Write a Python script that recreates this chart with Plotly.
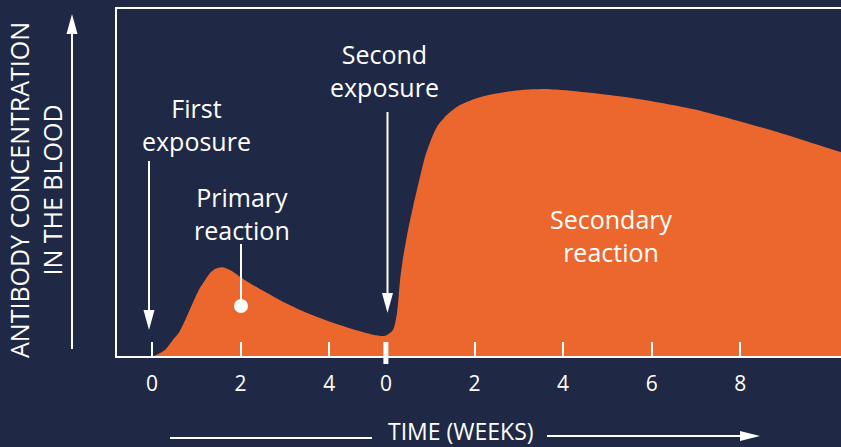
import plotly.graph_objects as go

# ---- data -------------------------------------------------------------
# time in weeks counted from the first exposure
second_exposure_week = 5.28
weeks = [0.05, 0.29, 0.47, 0.63, 0.79, 0.97, 1.08, 1.20, 1.31, 1.42, 1.58, 1.76,
         1.99, 2.21, 2.89, 3.50, 4.24, 4.99, 5.26, 5.44, 5.53, 5.60, 5.67, 5.78,
         5.89, 6.05, 6.16, 6.28, 6.43, 6.66, 6.95, 7.40, 8.15, 8.98, 10.72, 12.21,
         13.72, 14.63, 15.55, 15.8]
concentration = [0.0, 1.7, 4.6, 7.2, 11.5, 16.7, 19.6, 21.9, 23.9, 25.1, 25.6, 24.8,
                 22.8, 21.0, 16.1, 12.4, 8.9, 6.1, 5.8, 7.5, 12.4, 21.9, 28.5, 36.3,
                 42.9, 51.6, 57.3, 61.7, 66.0, 69.5, 72.3, 74.6, 76.4, 76.9, 74.6, 71.2,
                 66.0, 62.5, 58.8, 58.0]
tick_weeks = [0, 2, 4,
              second_exposure_week, second_exposure_week + 2, second_exposure_week + 4,
              second_exposure_week + 6, second_exposure_week + 8]
tick_labels = ["0", "2", "4", "0", "2", "4", "6", "8"]

BG = "#1f2945"
ORANGE = "#ec672d"
WHITE = "#ffffff"
FONT = "Open Sans"

W, H = 841, 447
L, R, T, B = 117, 841, 9, 356  # plot area in pixels


def px(x):
    return (x - L) / (R - L)


def py(y):
    return (B - y) / (B - T)


fig = go.Figure()
fig.add_trace(go.Scatter(
    x=weeks, y=concentration, mode="lines", fill="tozeroy",
    fillcolor=ORANGE, line=dict(width=0, color=ORANGE, shape="spline", smoothing=0.7),
    hoverinfo="skip", showlegend=False))

shapes = []


def vline(x, y0, y1, w=2):
    shapes.append(dict(type="line", xref="paper", yref="paper",
                       x0=px(x), x1=px(x), y0=py(y0), y1=py(y1),
                       line=dict(color=WHITE, width=w)))


def hline(x0, x1, y, w=2):
    shapes.append(dict(type="line", xref="paper", yref="paper",
                       x0=px(x0), x1=px(x1), y0=py(y), y1=py(y),
                       line=dict(color=WHITE, width=w)))


def tri(points):
    path = "M " + " L ".join(f"{px(a)},{py(b)}" for a, b in points) + " Z"
    shapes.append(dict(type="path", xref="paper", yref="paper", path=path,
                       fillcolor=WHITE, line=dict(color=WHITE, width=0)))


# first exposure arrow
vline(149, 161, 312)
tri([(143.5, 310), (154.5, 310), (149, 330)])
# second exposure arrow
vline(387.5, 112, 295)
tri([(382, 293), (393, 293), (387.5, 313)])
# primary reaction pointer + dot
vline(241, 244, 306)
shapes.append(dict(type="circle", xref="paper", yref="paper",
                   x0=px(234), x1=px(248), y0=py(313), y1=py(299),
                   fillcolor=WHITE, line=dict(color=WHITE, width=0)))
# y-axis arrow (outside plot)
vline(72, 349, 32)
tri([(66.5, 34), (77.5, 34), (72, 14)])
# time arrow
hline(170, 372, 438)
hline(547, 742, 436)
tri([(740, 431), (740, 441), (760, 436)])
# thick tick at second exposure
shapes.append(dict(type="line", xref="x", yref="paper",
                   x0=second_exposure_week, x1=second_exposure_week,
                   y0=py(342), y1=py(364), line=dict(color=WHITE, width=5)))

annotations = []


def text(s, x, y, size=25, angle=0):
    annotations.append(dict(text=s, xref="paper", yref="paper", x=px(x), y=py(y),
                            xanchor="center", yanchor="middle", showarrow=False,
                            textangle=angle, borderpad=0,
                            font=dict(family=FONT, size=size, color=WHITE)))


text("First<br>exposure", 196, 124)
text("Primary<br>reaction", 242, 213)
text("Second<br>exposure", 384, 70)
text("Secondary<br>reaction", 611, 236)
text("ANTIBODY CONCENTRATION<br>IN THE BLOOD", 35, 190, angle=-90)
text("TIME (WEEKS)", 461, 430.5, size=23)

fig.update_layout(
    width=W, height=H,
    margin=dict(l=L, r=W - R, t=T, b=H - B, pad=0),
    paper_bgcolor=BG, plot_bgcolor=BG,
    shapes=shapes, annotations=annotations,
    xaxis=dict(range=[(L - 152) / 44.3, (R - 152) / 44.3], showgrid=False, zeroline=False,
               showline=True, linecolor=WHITE, linewidth=2, mirror=True,
               tickvals=tick_weeks, ticktext=tick_labels,
               ticks="inside", ticklen=14, tickwidth=2, tickcolor=WHITE,
               tickfont=dict(family=FONT, size=21, color=WHITE),
               ticklabelstandoff=8, fixedrange=True),
    yaxis=dict(range=[0, 100], showgrid=False, zeroline=False,
               showline=True, linecolor=WHITE, linewidth=2, mirror=False,
               showticklabels=False, ticks="", fixedrange=True),
)

fig.write_html("out.html", config={"displayModeBar": False, "staticPlot": True},
               post_script="document.body.style.margin='0';document.body.style.overflow='hidden';document.body.style.background='" + BG + "';")
